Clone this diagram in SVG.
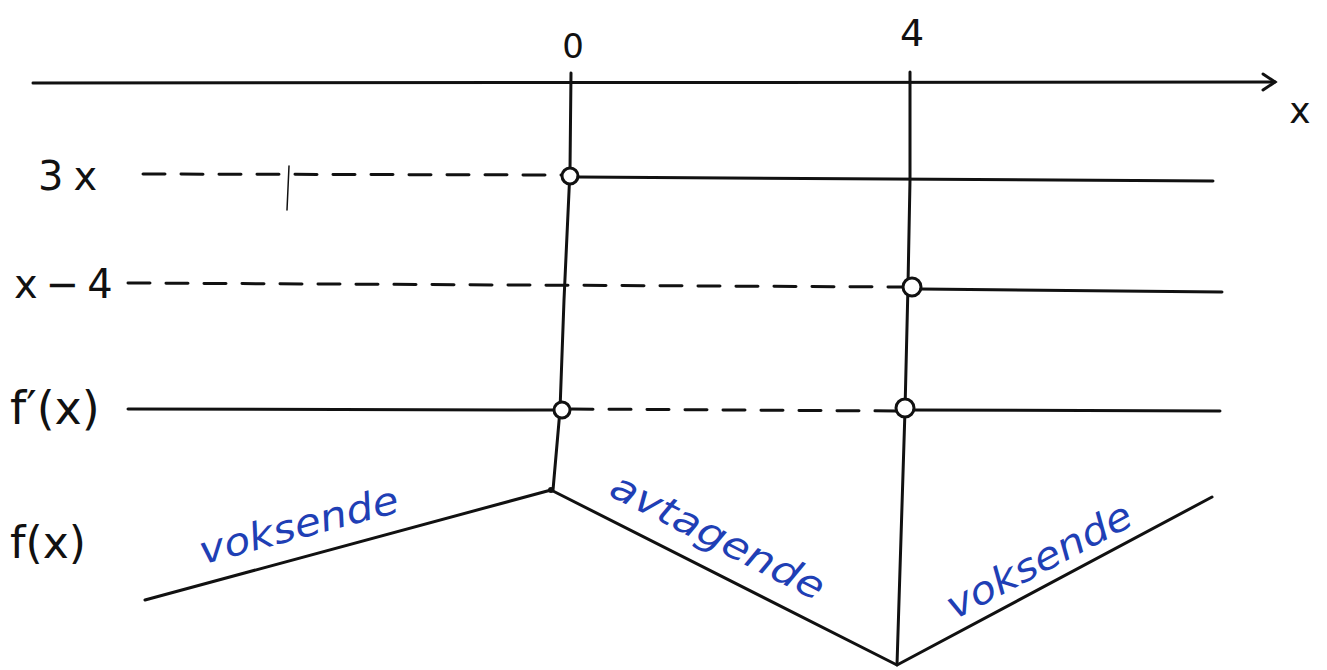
<svg xmlns="http://www.w3.org/2000/svg" width="1327" height="670" viewBox="0 0 1327 670">
<style>
.ln{fill:none;stroke:#111;stroke-width:3;stroke-linecap:round;stroke-linejoin:round}
.ds{fill:none;stroke:#111;stroke-width:3;stroke-dasharray:22 16;stroke-linecap:round}
.ring{fill:#fff;stroke:#111;stroke-width:3}
.lbl{font-family:"DejaVu Sans","Liberation Sans",sans-serif;fill:#111}
.blue{font-family:"DejaVu Sans","Liberation Sans",sans-serif;fill:#1f3fb5;font-size:38px;font-style:italic}
</style>
<defs>
<marker id="arr" markerWidth="20" markerHeight="20" refX="16" refY="10" orient="auto" markerUnits="userSpaceOnUse">
<path d="M4,2 L16,10 L4,18" fill="none" stroke="#111" stroke-width="3" stroke-linecap="round"/>
</marker>
</defs>
<rect width="1327" height="670" fill="#fff"/>
<g id="axis">
<line class="ln" x1="33" y1="83" x2="1275" y2="82" marker-end="url(#arr)"/>
<text class="lbl" x="1300" y="123" font-size="36" text-anchor="middle">x</text>
<text class="lbl" x="573" y="58" font-size="34" text-anchor="middle">0</text>
<text class="lbl" x="912" y="46" font-size="38" text-anchor="middle">4</text>
</g>
<g id="connectors">
<polyline class="ln" points="571,73 570,170 564,300 560,410 553,490"/>
<polyline class="ln" points="910,72 910,180 908,285 905,410 897,665"/>
</g>
<g id="row-3x">
<text class="lbl" x="38" y="190" font-size="40" letter-spacing="10">3x</text>
<line class="ds" x1="143" y1="174" x2="562" y2="175"/>
<line class="ln" x1="289" y1="166" x2="287" y2="210" style="stroke-width:1.5"/>
<circle class="ring" cx="570" cy="176" r="8"/>
<line class="ln" x1="578" y1="177" x2="1213" y2="181"/>
</g>
<g id="row-x-4">
<text class="lbl" x="14" y="298" font-size="40" letter-spacing="8">x−4</text>
<line class="ds" x1="128" y1="283" x2="903" y2="287"/>
<circle class="ring" cx="912" cy="287" r="9"/>
<line class="ln" x1="921" y1="289" x2="1222" y2="292"/>
</g>
<g id="row-fprime">
<text class="lbl" x="10" y="424" font-size="46">f′(x)</text>
<line class="ln" x1="128" y1="409" x2="554" y2="410"/>
<circle class="ring" cx="562" cy="410" r="8"/>
<line class="ds" x1="571" y1="409" x2="896" y2="411"/>
<circle class="ring" cx="905" cy="408" r="9"/>
<line class="ln" x1="914" y1="410" x2="1220" y2="411"/>
</g>
<g id="row-f">
<text class="lbl" x="10" y="558" font-size="44">f(x)</text>
<polyline class="ln" points="145,600 551,490 897,665 1212,497"/>
<circle cx="551" cy="490" r="3" fill="#111"/>
<text class="blue" transform="translate(302,538) rotate(-15)" text-anchor="middle" textLength="205" lengthAdjust="spacingAndGlyphs">voksende</text>
<text class="blue" transform="translate(712,548) rotate(27)" text-anchor="middle" textLength="235" lengthAdjust="spacingAndGlyphs">avtagende</text>
<text class="blue" transform="translate(1045,572) rotate(-28)" text-anchor="middle" textLength="205" lengthAdjust="spacingAndGlyphs">voksende</text>
</g>
</svg>
